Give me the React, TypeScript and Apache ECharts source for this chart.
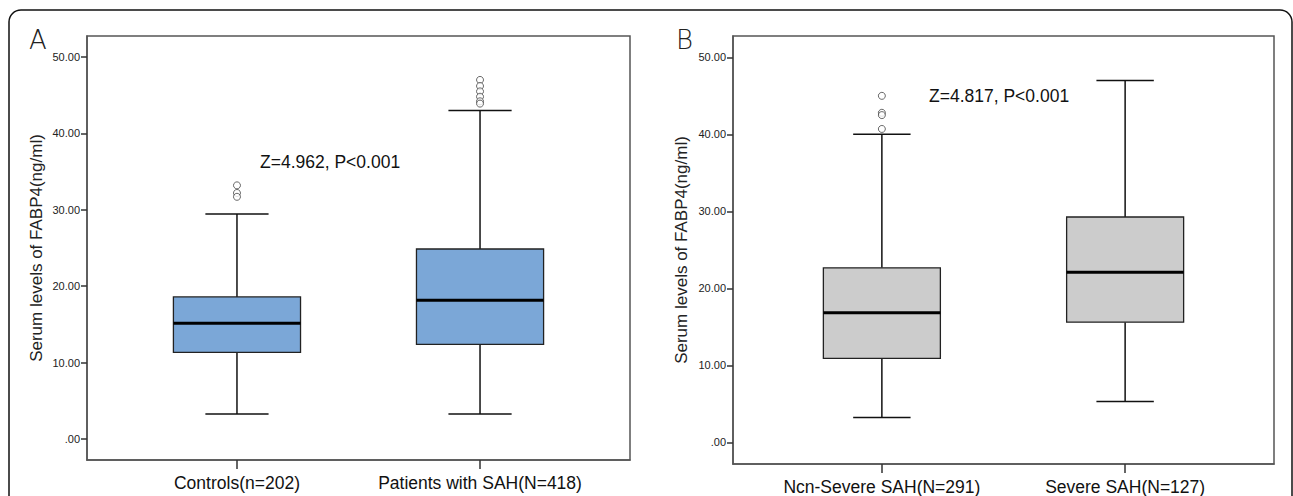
import React, { useEffect, useRef } from "react";
import * as echarts from "echarts";

// Panel A
const catsA = ["Controls(n=202)", "Patients with SAH(N=418)"];
// [min, Q1, median, Q3, max]
const boxA = [
  [3.27, 11.35, 15.14, 18.6, 29.45],
  [3.27, 12.39, 18.15, 24.87, 43.0],
];
const outliersA0 = [33.2, 32.2, 31.7];
const outliersA1 = [47.0, 46.2, 45.5, 44.8, 44.2, 43.9];
const statA = "Z=4.962, P<0.001";

// Panel B
const catsB = ["Ncn-Severe SAH(N=291)", "Severe SAH(N=127)"];
const boxB = [
  [3.24, 10.92, 16.84, 22.67, 40.0],
  [5.31, 15.62, 22.1, 29.27, 47.0],
];
const outliersB0 = [45.0, 42.8, 42.5, 40.7];
const outliersB1: number[] = [];
const statB = "Z=4.817, P<0.001";

const yTicks = [0, 10, 20, 30, 40, 50];
const yName = "Serum levels of FABP4(ng/ml)";

const FONT = "'Liberation Sans', Arial, sans-serif";

function makeRender(boxW: number, capW: number, fill: string) {
  return (params: any, api: any) => {
    const x = api.value(0);
    const mn = api.coord([x, api.value(1)]);
    const q1 = api.coord([x, api.value(2)]);
    const md = api.coord([x, api.value(3)]);
    const q3 = api.coord([x, api.value(4)]);
    const mx = api.coord([x, api.value(5)]);
    const hw = api.size([boxW, 0])[0] / 2;
    const hc = api.size([capW, 0])[0] / 2;
    const cx = mn[0];
    const wl = { stroke: "#111", lineWidth: 1.5 };
    return {
      type: "group",
      children: [
        { type: "line", shape: { x1: cx, y1: mx[1], x2: cx, y2: q3[1] }, style: wl },
        { type: "line", shape: { x1: cx, y1: q1[1], x2: cx, y2: mn[1] }, style: wl },
        { type: "line", shape: { x1: cx - hc, y1: mx[1], x2: cx + hc, y2: mx[1] }, style: wl },
        { type: "line", shape: { x1: cx - hc, y1: mn[1], x2: cx + hc, y2: mn[1] }, style: wl },
        {
          type: "rect",
          shape: { x: cx - hw, y: q3[1], width: hw * 2, height: q1[1] - q3[1] },
          style: { fill, stroke: "#222", lineWidth: 1.3 },
        },
        { type: "line", shape: { x1: cx - hw, y1: md[1], x2: cx + hw, y2: md[1] }, style: { stroke: "#000", lineWidth: 3 } },
      ],
    };
  };
}

function xAxisFor(gridIndex: number, cats: string[], pad: number) {
  return {
    type: "value",
    gridIndex,
    min: -pad,
    max: 1 + pad,
    splitLine: { show: false },
    axisLine: { show: true, onZero: false, lineStyle: { color: "#555", width: 1.5 } },
    axisTick: { show: true, customValues: [0, 1], length: 9, inside: false, lineStyle: { color: "#333", width: 1.5 } },
    axisLabel: {
      customValues: [0, 1],
      formatter: (v: number) => cats[Math.round(v)],
      fontSize: 17.5,
      fontFamily: FONT,
      color: "#111",
      margin: 14,
    },
  };
}

function yAxisFor(gridIndex: number, min: number, max: number, gap: number) {
  return {
    type: "value",
    gridIndex,
    min,
    max,
    name: yName,
    nameLocation: "middle",
    nameGap: gap,
    nameTextStyle: { fontSize: 17, fontFamily: FONT, color: "#222" },
    splitLine: { show: false },
    axisLine: { show: true, onZero: false, lineStyle: { color: "#555", width: 1.5 } },
    axisTick: { show: true, customValues: yTicks, length: 6, lineStyle: { color: "#333", width: 1.5 } },
    axisLabel: {
      customValues: yTicks,
      formatter: (v: number) => (v === 0 ? ".00" : v.toFixed(2)),
      fontSize: 11,
      fontFamily: FONT,
      color: "#222",
      margin: 7,
    },
  };
}

function outlierData(idx: number, vals: number[]) {
  return vals.map((v) => [idx, v]);
}

export default function App() {
  const ref = useRef<HTMLDivElement>(null);
  useEffect(() => {
    if (!ref.current) return;
    const chart = echarts.init(ref.current, null, { renderer: "svg" });
    const outStyle = { color: "#fff", borderColor: "#444", borderWidth: 1 };
    chart.setOption({
      animation: false,
      backgroundColor: "#fff",
      grid: [
        { left: 87, top: 36, width: 543, height: 424, show: true, borderColor: "#555", borderWidth: 1.5, backgroundColor: "transparent" },
        { left: 733, top: 36, width: 541, height: 429, show: true, borderColor: "#555", borderWidth: 1.5, backgroundColor: "transparent" },
      ],
      xAxis: [xAxisFor(0, catsA, 0.617), xAxisFor(1, catsB, 0.612)],
      yAxis: [yAxisFor(0, -2.75, 52.75, 42), yAxisFor(1, -2.8, 52.77, 43)],
      series: [
        {
          type: "custom",
          xAxisIndex: 0,
          yAxisIndex: 0,
          renderItem: makeRender(0.523, 0.26, "#7ba7d7"),
          encode: { x: 0, y: [1, 2, 3, 4, 5] },
          data: boxA.map((b, i) => [i, ...b]),
        },
        {
          type: "custom",
          xAxisIndex: 1,
          yAxisIndex: 1,
          renderItem: makeRender(0.481, 0.236, "#cccccc"),
          encode: { x: 0, y: [1, 2, 3, 4, 5] },
          data: boxB.map((b, i) => [i, ...b]),
        },
        {
          type: "scatter",
          xAxisIndex: 0,
          yAxisIndex: 0,
          symbol: "circle",
          symbolSize: 7,
          itemStyle: outStyle,
          data: [...outlierData(0, outliersA0), ...outlierData(1, outliersA1)],
        },
        {
          type: "scatter",
          xAxisIndex: 1,
          yAxisIndex: 1,
          symbol: "circle",
          symbolSize: 7,
          itemStyle: outStyle,
          data: [...outlierData(0, outliersB0), ...outlierData(1, outliersB1)],
        },
      ],
      graphic: [
        {
          type: "rect",
          shape: { x: 9, y: 10, width: 1283, height: 560, r: 12 },
          style: { fill: "none", stroke: "#111", lineWidth: 1.5 },
          silent: true,
        },
        { type: "text", left: 29, top: 27, style: { text: "A", fontSize: 26, fontWeight: 200, fontFamily: "'DejaVu Sans', sans-serif", fill: "#222" } },
        { type: "text", left: 676, top: 27, style: { text: "B", fontSize: 26, fontWeight: 200, fontFamily: "'DejaVu Sans', sans-serif", fill: "#222" } },
        { type: "text", left: 260, top: 153, style: { text: statA, fontSize: 17.5, fontFamily: FONT, fill: "#111" } },
        { type: "text", left: 929, top: 87, style: { text: statB, fontSize: 17.5, fontFamily: FONT, fill: "#111" } },
      ],
    });
    return () => chart.dispose();
  }, []);
  return (
    <div
      ref={ref}
      style={{ position: "fixed", left: 0, top: 0, width: 1293, height: 496, background: "#fff" }}
    />
  );
}
